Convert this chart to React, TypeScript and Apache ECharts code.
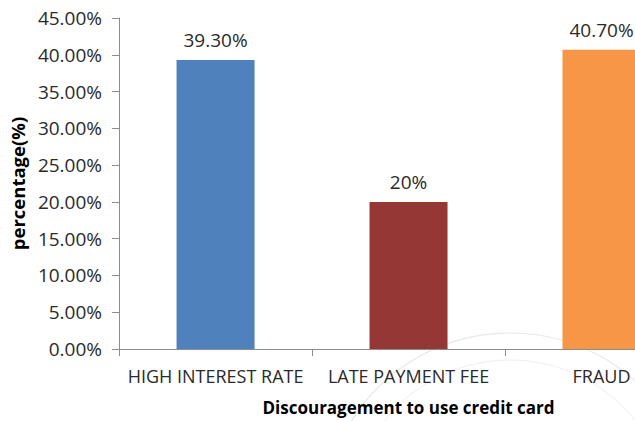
import React, { useEffect, useRef } from "react";
import * as echarts from "echarts";

const categories = ["HIGH INTEREST RATE", "LATE PAYMENT FEE", "FRAUD"];
const values = [39.3, 20, 40.7];
const valueLabels = ["39.30%", "20%", "40.70%"];
const barColors = ["#4F81BD", "#953735", "#F79646"];
const yTicks = { min: 0, max: 45, interval: 5 };

const FONT = "'Open Sans', sans-serif";

export default function App() {
  const ref = useRef<HTMLDivElement>(null);
  useEffect(() => {
    if (!ref.current) return;
    const chart = echarts.init(ref.current, undefined, { renderer: "svg" });
    chart.setOption({
      animation: false,
      backgroundColor: "#ffffff",
      textStyle: { fontFamily: FONT },
      graphic: [
        { type: "circle", shape: { cx: 510, cy: 520, r: 187 }, style: { fill: "none", stroke: "#e8e8e8", lineWidth: 1.2 }, silent: true, z: -10 },
        { type: "circle", shape: { cx: 510, cy: 520, r: 160 }, style: { fill: "none", stroke: "#efefef", lineWidth: 1 }, silent: true, z: -10 },
      ],
      grid: { left: 118, top: 18, bottom: 70, right: 2, containLabel: false },
      xAxis: {
        type: "category",
        data: categories,
        name: "Discouragement to use credit card",
        nameLocation: "middle",
        nameGap: 50,
        nameTextStyle: { fontFamily: FONT, fontSize: 17, fontWeight: "bold", color: "#000" },
        axisLine: { lineStyle: { color: "#8c8c8c", width: 1 } },
        axisTick: { show: true, length: 7, alignWithLabel: false, lineStyle: { color: "#8c8c8c" } },
        axisLabel: { interval: 0, fontFamily: FONT, fontSize: 18, color: "#2a2a2a", margin: 18 },
      },
      yAxis: {
        type: "value",
        min: yTicks.min,
        max: yTicks.max,
        interval: yTicks.interval,
        name: "percentage(%)",
        nameLocation: "middle",
        nameGap: 88,
        nameTextStyle: { fontFamily: FONT, fontSize: 18.5, fontWeight: "bold", color: "#000" },
        axisLine: { show: true, lineStyle: { color: "#8c8c8c", width: 1 } },
        axisTick: { show: true, length: 7, lineStyle: { color: "#8c8c8c" } },
        splitLine: { show: false },
        axisLabel: {
          fontFamily: FONT,
          fontSize: 19,
          color: "#2a2a2a",
          margin: 17,
          formatter: (v: number) => v.toFixed(2) + "%",
        },
      },
      series: [
        {
          type: "bar",
          barWidth: 78,
          data: values.map((v, i) => ({ value: v, itemStyle: { color: barColors[i] } })),
          label: {
            show: true,
            position: "top",
            distance: 10,
            fontFamily: FONT,
            fontSize: 19,
            color: "#2a2a2a",
            formatter: (p: any) => valueLabels[p.dataIndex],
          },
        },
      ],
    });
    return () => chart.dispose();
  }, []);
  return (
    <div style={{ position: "absolute", left: 0, top: 0, width: 635, height: 421, overflow: "hidden" }}>
      <div ref={ref} style={{ width: 700, height: 421 }} />
    </div>
  );
}
